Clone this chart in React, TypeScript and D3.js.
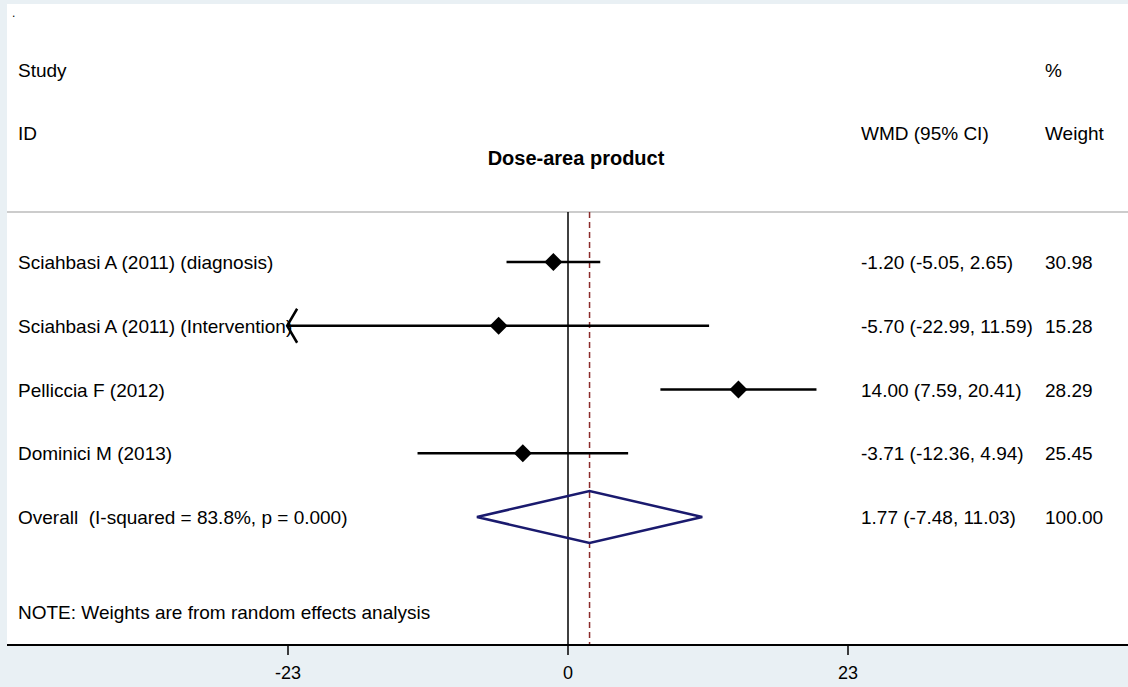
import * as d3 from "d3";

// study rows
const studies = [
  "Sciahbasi A (2011) (diagnosis)",
  "Sciahbasi A (2011) (Intervention)",
  "Pelliccia F (2012)",
  "Dominici M (2013)",
];
const wmd = [-1.2, -5.7, 14.0, -3.71];
const lower = [-5.05, -22.99, 7.59, -12.36];
const upper = [2.65, 11.59, 20.41, 4.94];
const weights = ["30.98", "15.28", "28.29", "25.45"];
const ciLabels = [
  "-1.20 (-5.05, 2.65)",
  "-5.70 (-22.99, 11.59)",
  "14.00 (7.59, 20.41)",
  "-3.71 (-12.36, 4.94)",
];

// pooled estimate
const overallLabel = "Overall  (I-squared = 83.8%, p = 0.000)";
const overallEst = 1.77;
const overallLo = -7.48;
const overallHi = 11.03;
const overallCi = "1.77 (-7.48, 11.03)";
const overallWeight = "100.00";

const xTicks = [-23, 0, 23];

const W = 1128;
const H = 687;
const font = "'Liberation Sans', Arial, sans-serif";
const fs = 19;

export default function App() {
  const x = d3.scaleLinear().domain([-23, 23]).range([288, 848]);
  const y = d3.scaleLinear().domain([0, 4]).range([262, 517]);
  const xMin = x.domain()[0];

  const plotTop = 212;
  const axisY = 645;

  const diamond = (cx: number, cy: number, hw: number, hh: number) =>
    d3.line()([
      [cx - hw, cy],
      [cx, cy - hh],
      [cx + hw, cy],
      [cx, cy + hh],
    ]) + "Z";

  return (
    <svg
      width={W}
      height={H}
      xmlSpace="preserve"
      style={{ position: "absolute", left: 0, top: 0, fontFamily: font, whiteSpace: "pre" }}
    >
      <rect x={0} y={0} width={W} height={H} fill="#e9f0f4" />
      <rect x={7} y={4} width={W - 7} height={axisY - 4} fill="#ffffff" />
      <text x={12} y={17} fontSize={12} fill="#000">.</text>

      {/* header */}
      <text x={18} y={77} fontSize={fs}>Study</text>
      <text x={18} y={140} fontSize={fs}>ID</text>
      <text x={1045} y={77} fontSize={fs}>%</text>
      <text x={861} y={140} fontSize={fs}>WMD (95% CI)</text>
      <text x={1045} y={140} fontSize={fs}>Weight</text>
      <text x={x(0) + 8} y={165} fontSize={20} fontWeight="bold" textAnchor="middle">
        Dose-area product
      </text>
      <line x1={7} x2={W} y1={plotTop} y2={plotTop} stroke="#bbbbbb" strokeWidth={1.5} />

      {/* reference lines */}
      <line x1={x(0)} x2={x(0)} y1={plotTop} y2={axisY} stroke="#000" strokeWidth={1.5} />
      <line
        x1={x(overallEst)}
        x2={x(overallEst)}
        y1={plotTop}
        y2={axisY}
        stroke="#8b2a2a"
        strokeWidth={1.5}
        strokeDasharray="6,4"
      />

      {/* studies */}
      {studies.map((s, i) => {
        const cy = y(i);
        const clipped = lower[i] <= xMin + 0.1;
        const x1 = x(Math.max(lower[i], xMin)) - (clipped ? 1 : 0);
        return (
          <g key={s}>
            <text x={18} y={cy + 7} fontSize={fs}>{s}</text>
            <line x1={x1} x2={x(upper[i])} y1={cy} y2={cy} stroke="#000" strokeWidth={2.5} />
            {clipped && (
              <path
                d={`M${x1 + 10},${cy - 17}L${x1},${cy}L${x1 + 10},${cy + 17}`}
                fill="none"
                stroke="#000"
                strokeWidth={2.5}
              />
            )}
            <path d={diamond(x(wmd[i]), cy, 9, 9)} fill="#000" />
            <text x={861} y={cy + 7} fontSize={fs}>{ciLabels[i]}</text>
            <text x={1045} y={cy + 7} fontSize={fs}>{weights[i]}</text>
          </g>
        );
      })}

      {/* overall */}
      <text x={18} y={y(4) + 7} fontSize={fs} xmlSpace="preserve">{overallLabel}</text>
      <path
        d={
          d3.line()([
            [x(overallLo), y(4)],
            [x(overallEst), y(4) - 26],
            [x(overallHi), y(4)],
            [x(overallEst), y(4) + 26],
          ]) + "Z"
        }
        fill="none"
        stroke="#1a1a6e"
        strokeWidth={2.5}
      />
      <text x={861} y={y(4) + 7} fontSize={fs}>{overallCi}</text>
      <text x={1045} y={y(4) + 7} fontSize={fs}>{overallWeight}</text>

      <text x={18} y={619} fontSize={fs}>NOTE: Weights are from random effects analysis</text>

      {/* axis */}
      <line x1={7} x2={W} y1={axisY} y2={axisY} stroke="#000" strokeWidth={2} />
      {xTicks.map((t) => (
        <g key={t}>
          <line x1={x(t)} x2={x(t)} y1={axisY} y2={axisY + 10} stroke="#000" strokeWidth={1.5} />
          <text x={x(t)} y={679} fontSize={18} textAnchor="middle">{t}</text>
        </g>
      ))}
    </svg>
  );
}
